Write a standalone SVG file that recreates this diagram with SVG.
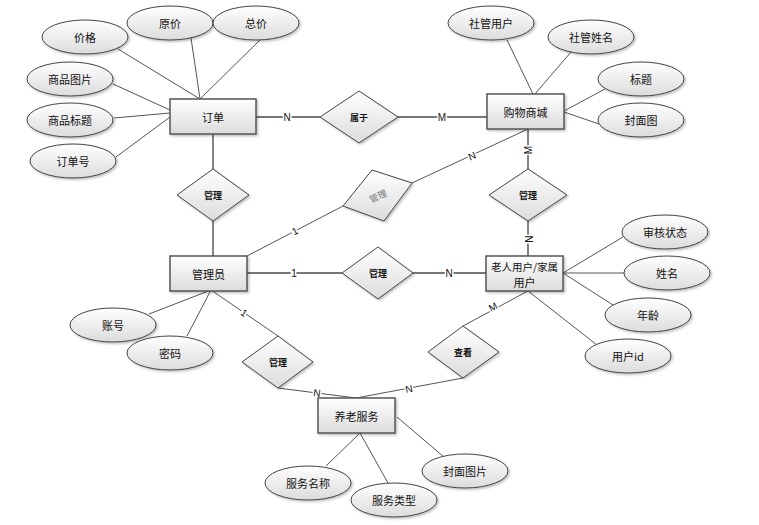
<svg xmlns="http://www.w3.org/2000/svg" width="759" height="525" viewBox="0 0 759 525">
<defs>
<linearGradient id="g" x1="0" y1="0" x2="0" y2="1">
<stop offset="0" stop-color="#ffffff"/>
<stop offset="1" stop-color="#dcdcdc"/>
</linearGradient>
<filter id="sh" x="-20%" y="-20%" width="140%" height="150%">
<feDropShadow dx="1.5" dy="1.5" stdDeviation="1" flood-color="#000" flood-opacity="0.25"/>
</filter>
<style>
.e{fill:url(#g);stroke:#444;stroke-width:1;filter:url(#sh)}
.r{fill:url(#g);stroke:#555;stroke-width:1.5;filter:url(#sh)}
.d{fill:url(#g);stroke:#444;stroke-width:1;filter:url(#sh)}
.t{font-family:"Noto Sans CJK SC","Liberation Sans",sans-serif;font-size:11px;fill:#111;text-anchor:middle;dominant-baseline:central}
.dt{font-family:"Noto Sans CJK SC","Liberation Sans",sans-serif;font-size:9px;font-weight:bold;fill:#111;text-anchor:middle;dominant-baseline:central}
.l{font-family:"Liberation Sans",sans-serif;font-size:10px;fill:#111;text-anchor:middle;dominant-baseline:central;paint-order:stroke;stroke:#fff;stroke-width:3}
.c line,.c polyline{stroke:#555;stroke-width:1;fill:none}
.c .k{stroke:#777;stroke-width:1.8}
</style>
</defs>
<rect width="759" height="525" fill="#fff"/>
<g class="c" id="connectors">
<line x1="118" y1="49" x2="200" y2="99"/>
<line x1="191" y1="38" x2="200" y2="99"/>
<line x1="260" y1="40" x2="200" y2="99"/>
<line x1="113" y1="84" x2="170" y2="110"/>
<line x1="114" y1="118" x2="170" y2="113"/>
<line x1="116" y1="157" x2="170" y2="117"/>
<line class="k" x1="256" y1="117" x2="320" y2="117"/>
<line class="k" x1="398" y1="117" x2="487" y2="117"/>
<line x1="507" y1="40" x2="533" y2="94"/>
<line x1="571" y1="52" x2="535" y2="94"/>
<line x1="605" y1="89" x2="564" y2="111"/>
<line x1="599" y1="124" x2="564" y2="112"/>
<line class="k" x1="528" y1="129" x2="528" y2="169"/>
<line class="k" x1="528" y1="221" x2="528" y2="256"/>
<line x1="412" y1="183" x2="528" y2="129"/>
<line x1="247" y1="256" x2="343" y2="206"/>
<line class="k" x1="213" y1="134" x2="213" y2="169"/>
<line class="k" x1="213" y1="221" x2="213" y2="256"/>
<line class="k" x1="247" y1="273" x2="342" y2="273"/>
<line class="k" x1="413" y1="273" x2="486" y2="273"/>
<line x1="563" y1="273" x2="623" y2="237"/>
<line x1="563" y1="273" x2="624" y2="273"/>
<line x1="563" y1="273" x2="613" y2="305"/>
<line x1="528" y1="291" x2="597" y2="345"/>
<line x1="528" y1="291" x2="463" y2="326"/>
<line x1="211" y1="290" x2="149" y2="314"/>
<line x1="211" y1="290" x2="187" y2="336"/>
<line x1="211" y1="290" x2="278" y2="336"/>
<polyline points="278,388 356,398 463,378"/>
<line x1="360" y1="433" x2="326" y2="466"/>
<line x1="360" y1="433" x2="388" y2="483"/>
<line x1="397" y1="417" x2="444" y2="457"/>
<text class="l" x="287" y="117">N</text>
<text class="l" x="442" y="117">M</text>
<text class="l" transform="translate(528,150) rotate(-90)">M</text>
<text class="l" transform="translate(528,239) rotate(90)">N</text>
<text class="l" transform="translate(472,156) rotate(-25)">N</text>
<text class="l" transform="translate(295,231) rotate(-27)">1</text>
<text class="l" x="294" y="273">1</text>
<text class="l" x="449" y="273">N</text>
<text class="l" transform="translate(244,313) rotate(34)">1</text>
<text class="l" transform="translate(317,393) rotate(7)">N</text>
<text class="l" transform="translate(409,389) rotate(-10)">N</text>
<text class="l" transform="translate(493,307) rotate(-28)">M</text>
</g>
<g id="order"><rect class="r" x="170" y="99" width="86" height="35"/><text class="t" x="213" y="116.5">订单</text></g>
<g id="mall"><rect class="r" x="487" y="94" width="77" height="35"/><text class="t" x="525.5" y="111.5">购物商城</text></g>
<g id="admin"><rect class="r" x="170" y="256" width="77" height="35"/><text class="t" x="208.5" y="273.5">管理员</text></g>
<g id="user"><rect class="r" x="486" y="256" width="77" height="35"/><text class="t" x="524.5" y="266" style="font-size:10.5px">老人用户/家属</text><text class="t" x="524.5" y="282">用户</text></g>
<g id="service"><rect class="r" x="318" y="398" width="77" height="35"/><text class="t" x="356.5" y="415.5">养老服务</text></g>
<g id="a-price"><ellipse class="e" cx="85" cy="37" rx="43" ry="17"/><text class="t" x="85" y="37">价格</text></g>
<g id="a-orig"><ellipse class="e" cx="170" cy="23" rx="43" ry="17"/><text class="t" x="170" y="23">原价</text></g>
<g id="a-total"><ellipse class="e" cx="256" cy="23" rx="43" ry="17"/><text class="t" x="256" y="23">总价</text></g>
<g id="a-img"><ellipse class="e" cx="70" cy="79" rx="43" ry="17"/><text class="t" x="70" y="79">商品图片</text></g>
<g id="a-title"><ellipse class="e" cx="70" cy="120" rx="43" ry="17"/><text class="t" x="70" y="120">商品标题</text></g>
<g id="a-no"><ellipse class="e" cx="73" cy="161" rx="43" ry="17"/><text class="t" x="73" y="161">订单号</text></g>
<g id="a-suser"><ellipse class="e" cx="491" cy="23" rx="43" ry="17"/><text class="t" x="491" y="23">社管用户</text></g>
<g id="a-sname"><ellipse class="e" cx="591" cy="37" rx="43" ry="17"/><text class="t" x="591" y="37">社管姓名</text></g>
<g id="a-mtitle"><ellipse class="e" cx="641" cy="79" rx="43" ry="17"/><text class="t" x="641" y="79">标题</text></g>
<g id="a-cover"><ellipse class="e" cx="641" cy="120" rx="43" ry="17"/><text class="t" x="641" y="120">封面图</text></g>
<g id="a-status"><ellipse class="e" cx="665" cy="232" rx="43" ry="17"/><text class="t" x="665" y="232">审核状态</text></g>
<g id="a-name"><ellipse class="e" cx="667" cy="273" rx="43" ry="17"/><text class="t" x="667" y="273">姓名</text></g>
<g id="a-age"><ellipse class="e" cx="648" cy="315" rx="43" ry="17"/><text class="t" x="648" y="315">年龄</text></g>
<g id="a-uid"><ellipse class="e" cx="628" cy="356" rx="43" ry="17"/><text class="t" x="628" y="356">用户id</text></g>
<g id="a-acct"><ellipse class="e" cx="113" cy="325" rx="43" ry="17"/><text class="t" x="113" y="325">账号</text></g>
<g id="a-pwd"><ellipse class="e" cx="170" cy="353" rx="43" ry="17"/><text class="t" x="170" y="353">密码</text></g>
<g id="a-sname2"><ellipse class="e" cx="308" cy="483" rx="43" ry="17"/><text class="t" x="308" y="483">服务名称</text></g>
<g id="a-stype"><ellipse class="e" cx="394" cy="500" rx="43" ry="17"/><text class="t" x="394" y="500">服务类型</text></g>
<g id="a-scover"><ellipse class="e" cx="465" cy="471" rx="43" ry="17"/><text class="t" x="465" y="471">封面图片</text></g>
<g id="r-belong"><polygon class="d" points="320,117 359,91 398,117 359,143"/><text class="dt" x="359" y="117">属于</text></g>
<g id="r-manage1"><polygon class="d" points="177,195 213,169 249,195 213,221"/><text class="dt" x="213" y="195">管理</text></g>
<g id="r-manage2"><polygon class="d" points="343,206 372,170 412,183 384,221"/><text class="dt" style="fill:#777;font-weight:normal" transform="translate(378,196) rotate(-25)">管理</text></g>
<g id="r-manage3"><polygon class="d" points="489,195 528,169 567,195 528,221"/><text class="dt" x="528" y="195">管理</text></g>
<g id="r-manage4"><polygon class="d" points="342,273 378,247 413,273 378,299"/><text class="dt" x="378" y="273">管理</text></g>
<g id="r-manage5"><polygon class="d" points="242,362 278,336 313,362 278,388"/><text class="dt" x="278" y="362">管理</text></g>
<g id="r-view"><polygon class="d" points="428,352 463,326 499,352 463,378"/><text class="dt" x="463" y="352">查看</text></g>
</svg>
